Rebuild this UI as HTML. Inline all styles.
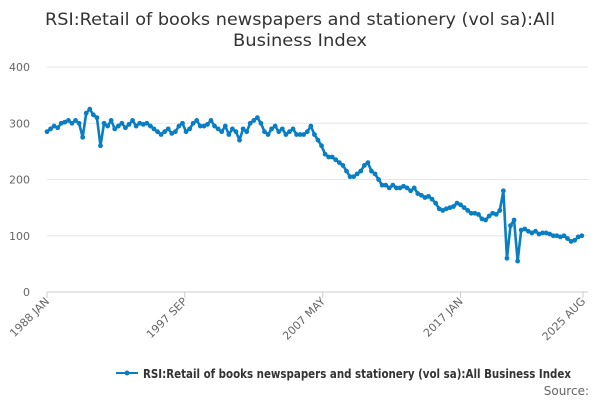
<!DOCTYPE html>
<html><head><meta charset="utf-8"><style>
body{margin:0;background:#fff;font-family:"DejaVu Sans","Liberation Sans",sans-serif;}
svg{display:block}
</style></head><body>
<svg id="chart" width="600" height="400">
<text x="300" y="25" text-anchor="middle" font-size="17" fill="#333" textLength="510" lengthAdjust="spacingAndGlyphs">RSI:Retail of books newspapers and stationery (vol sa):All</text>
<text x="300" y="46" text-anchor="middle" font-size="17" fill="#333" textLength="134" lengthAdjust="spacingAndGlyphs">Business Index</text>
<g id="grid"></g><g id="xaxis"></g><g id="series"></g>
<g>
<line x1="116" y1="373" x2="138" y2="373" stroke="#0a7ec2" stroke-width="2"/>
<circle cx="127" cy="373" r="2.5" fill="#0a7ec2"/>
<text x="143" y="378" font-size="12.5" font-weight="bold" fill="#333" textLength="428" lengthAdjust="spacingAndGlyphs">RSI:Retail of books newspapers and stationery (vol sa):All Business Index</text>
</g>
<text x="589" y="395" text-anchor="end" font-size="12" fill="#666">Source:</text>
</svg>
<script>
const yTicks=[0,100,200,300,400];
const xTickLabels=["1988 JAN","1997 SEP","2007 MAY","2017 JAN","2025 AUG"];
const xTickDates=[1988.0,1997+8/12,2007+4/12,2017.0,2025+7/12];
const startYear=1988, stepMonths=3;
const values=[285,290,295,292,300,302,305,300,305,300,275,318,325,315,310,260,300,295,305,290,295,300,292,298,305,295,300,298,300,295,290,285,280,285,290,282,285,295,300,285,290,300,305,295,295,298,305,295,290,285,295,280,290,285,270,290,285,300,305,310,300,285,280,290,295,285,290,280,285,290,280,280,280,285,295,280,270,260,245,240,240,235,230,225,215,205,205,210,215,225,230,215,210,200,190,190,185,190,185,185,188,185,180,185,175,172,168,170,165,158,148,145,148,150,152,158,155,150,145,140,140,138,130,128,135,140,138,145,180,60,118,128,55,110,112,108,105,108,103,105,105,103,100,100,98,100,95,90,92,98,100];
const X0=47,X1=583,T0=1988.0,T1=2025+7/12;
const xs=t=>X0+(t-T0)/(T1-T0)*(X1-X0);
const ys=v=>292-v*0.5625;
const NS="http://www.w3.org/2000/svg";
function mk(tag,attrs,parent){const e=document.createElementNS(NS,tag);for(const k in attrs)e.setAttribute(k,attrs[k]);parent.appendChild(e);return e;}
const grid=document.getElementById('grid');
yTicks.forEach(v=>{
 const l=mk('line',{x1:X0,x2:X1+5,y1:ys(v),y2:ys(v),stroke:v===0?'#ccc':'#e6e6e6'},grid);
 
 
 const t=mk('text',{x:30,y:ys(v)+4,'text-anchor':'end','font-size':11,fill:'#666'},grid);
 t.textContent=v;
 
 
});
const xa=document.getElementById('xaxis');
xTickDates.forEach((d,i)=>{
 const x=xs(d);
 const tk=mk('line',{x1:x,x2:x,y1:292,y2:298,stroke:'#ccc'},xa);
 
 
 const t=mk('text',{x:x+3,y:302,'text-anchor':'end','font-size':11,fill:'#666',transform:`rotate(-45 ${x+3} 302)`},xa);
 t.textContent=xTickLabels[i];
 
 
});
const s=document.getElementById('series');
const pts=values.map((v,i)=>[xs(startYear+i*stepMonths/12),ys(v)]);
const p=mk('path',{d:'M'+pts.map(p=>p.join(',')).join('L'),fill:'none',stroke:'#0a7ec2','stroke-width':2.6,'stroke-linejoin':'round'},s);


pts.forEach(q=>{
 const c=mk('circle',{cx:q[0],cy:q[1],r:2.4,fill:'#0a7ec2'},s);
 
 
});
</script>
</body></html>
